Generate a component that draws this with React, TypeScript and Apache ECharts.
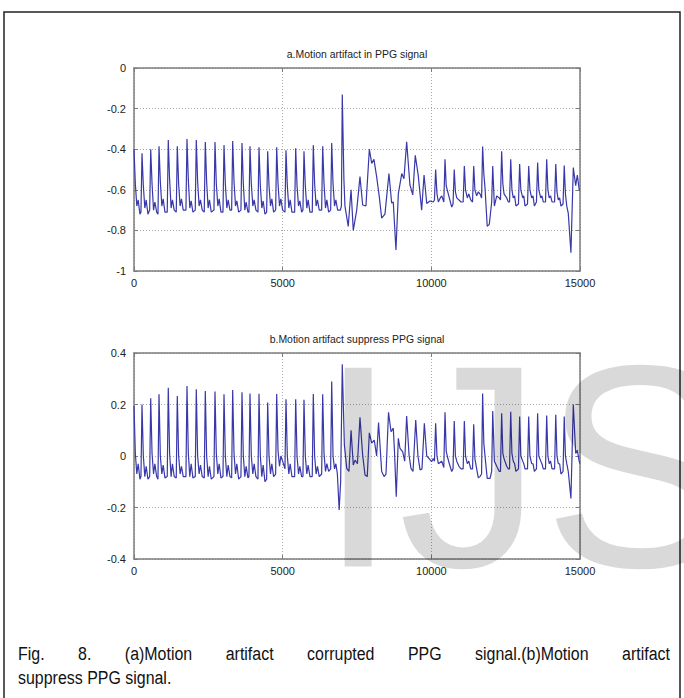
import React, { useEffect, useRef } from "react";
import * as echarts from "echarts";

const FONT = '"Liberation Sans", Arial, sans-serif';

const titleA = "a.Motion artifact in PPG signal";
const titleB = "b.Motion artifact suppress PPG signal";

const xTicks = { min: 0, max: 15000, interval: 5000 };
const yTicksA = { min: -1, max: 0, interval: 0.2 };
const yTicksB = { min: -0.4, max: 0.4, interval: 0.2 };

// (a) raw PPG signal, [sample, amplitude]
const rawBefore: [number, number][] = [
  [0, -0.4], [45, -0.57], [95, -0.68], [140, -0.65], [200, -0.72],
  [234, -0.71], [269, -0.42], [314, -0.58], [364, -0.69], [409, -0.65], [469, -0.72],
  [527, -0.7], [562, -0.4], [607, -0.57], [657, -0.7], [702, -0.66], [762, -0.71],
  [806, -0.72], [841, -0.385], [886, -0.56], [936, -0.68], [981, -0.645], [1041, -0.71],
  [1118, -0.71], [1153, -0.355], [1198, -0.55], [1248, -0.69], [1293, -0.65], [1353, -0.7],
  [1421, -0.71], [1456, -0.385], [1501, -0.57], [1551, -0.68], [1596, -0.645], [1656, -0.7],
  [1747, -0.7], [1782, -0.35], [1827, -0.55], [1877, -0.69], [1922, -0.655], [1982, -0.71],
  [2060, -0.7], [2095, -0.355], [2140, -0.56], [2190, -0.68], [2235, -0.65], [2295, -0.7],
  [2363, -0.71], [2398, -0.365], [2443, -0.56], [2493, -0.69], [2538, -0.65], [2598, -0.71],
  [2689, -0.7], [2724, -0.365], [2769, -0.57], [2819, -0.68], [2864, -0.645], [2924, -0.71],
  [2992, -0.71], [3027, -0.38], [3072, -0.57], [3122, -0.69], [3167, -0.65], [3227, -0.7],
  [3284, -0.7], [3319, -0.36], [3364, -0.56], [3414, -0.68], [3459, -0.655], [3519, -0.71],
  [3597, -0.7], [3632, -0.37], [3677, -0.57], [3727, -0.7], [3772, -0.66], [3832, -0.71],
  [3866, -0.71], [3901, -0.385], [3946, -0.57], [3996, -0.68], [4041, -0.65], [4101, -0.7],
  [4169, -0.71], [4204, -0.39], [4249, -0.58], [4299, -0.69], [4344, -0.655], [4404, -0.72],
  [4461, -0.71], [4496, -0.41], [4541, -0.58], [4591, -0.68], [4636, -0.645], [4696, -0.71],
  [4764, -0.7], [4799, -0.39], [4844, -0.57], [4894, -0.68], [4939, -0.645], [4999, -0.7],
  [5077, -0.71], [5112, -0.405], [5157, -0.58], [5207, -0.69], [5252, -0.65], [5312, -0.71],
  [5403, -0.71], [5438, -0.395], [5483, -0.58], [5533, -0.68], [5578, -0.655], [5638, -0.71],
  [5682, -0.7], [5717, -0.41], [5762, -0.58], [5812, -0.69], [5857, -0.65], [5917, -0.71],
  [5995, -0.71], [6030, -0.38], [6075, -0.57], [6125, -0.68], [6170, -0.65], [6230, -0.7],
  [6311, -0.7], [6346, -0.385], [6391, -0.57], [6441, -0.69], [6486, -0.65], [6546, -0.71],
  [6614, -0.7], [6649, -0.37], [6694, -0.57], [6744, -0.68], [6789, -0.65], [6849, -0.7], [6940, -0.7],
];

const rawArtifact: [number, number][] = [
  [6975, -0.68], [7005, -0.13], [7060, -0.55], [7095, -0.68], [7205, -0.78], [7300, -0.6],
  [7375, -0.8], [7490, -0.7], [7600, -0.535], [7690, -0.675], [7800, -0.68], [7915, -0.4],
  [7995, -0.47], [8070, -0.45], [8160, -0.535], [8250, -0.635], [8330, -0.74], [8440, -0.72],
  [8575, -0.52], [8665, -0.665], [8720, -0.66], [8810, -0.897], [8890, -0.62], [9005, -0.52],
  [9080, -0.545], [9170, -0.363], [9280, -0.575], [9375, -0.625], [9460, -0.43], [9560, -0.53],
  [9675, -0.7], [9755, -0.527], [9845, -0.667], [9955, -0.655],
];

const rawAfter: [number, number][] = [
  [10065, -0.66], [10105, -0.65], [10145, -0.5], [10190, -0.62], [10235, -0.66], [10300, -0.64],
  [10350, -0.63], [10420, -0.66], [10460, -0.45], [10500, -0.58], [10535, -0.6], [10605, -0.64],
  [10685, -0.685], [10730, -0.67], [10770, -0.5], [10810, -0.61], [10855, -0.64], [10930, -0.65],
  [11000, -0.66], [11070, -0.66], [11110, -0.483], [11150, -0.6], [11210, -0.64], [11260, -0.62],
  [11325, -0.65], [11385, -0.66], [11425, -0.483], [11465, -0.6], [11525, -0.63], [11580, -0.61],
  [11635, -0.62], [11690, -0.64], [11725, -0.387], [11765, -0.52], [11805, -0.59], [11880, -0.78],
  [11950, -0.77], [12030, -0.66], [12065, -0.483], [12120, -0.68], [12200, -0.63], [12285, -0.64],
  [12325, -0.65], [12365, -0.41], [12405, -0.57], [12445, -0.62], [12535, -0.64], [12590, -0.66],
  [12630, -0.66], [12670, -0.45], [12710, -0.6], [12755, -0.64], [12800, -0.63], [12845, -0.68],
  [12930, -0.67], [12970, -0.473], [13010, -0.6], [13075, -0.64], [13110, -0.63], [13150, -0.68],
  [13235, -0.67], [13275, -0.483], [13315, -0.6], [13375, -0.64], [13420, -0.63], [13465, -0.68],
  [13535, -0.66], [13575, -0.466], [13615, -0.6], [13680, -0.64], [13720, -0.63], [13765, -0.66],
  [13840, -0.66], [13880, -0.45], [13920, -0.6], [13965, -0.64], [14010, -0.63], [14060, -0.66],
  [14145, -0.66], [14185, -0.473], [14225, -0.61], [14270, -0.65], [14315, -0.64], [14360, -0.68],
  [14430, -0.67], [14470, -0.48], [14510, -0.62], [14555, -0.68], [14605, -0.715], [14695, -0.91],
  [14775, -0.49], [14855, -0.58], [14910, -0.527], [14975, -0.6], [15000, -0.6],
];

// (b) artifact-suppressed PPG signal, [sample, amplitude]
const cleanBefore: [number, number][] = [
  [0, 0.195], [45, 0.01], [95, -0.07], [140, -0.03], [200, -0.09],
  [234, -0.08], [269, 0.2], [314, 0.0], [364, -0.08], [409, -0.04], [469, -0.09],
  [527, -0.08], [562, 0.224], [607, 0.01], [657, -0.07], [702, -0.03], [762, -0.08],
  [806, -0.09], [841, 0.24], [886, 0.0], [936, -0.07], [981, -0.035], [1041, -0.085],
  [1118, -0.08], [1153, 0.265], [1198, 0.01], [1248, -0.08], [1293, -0.03], [1353, -0.08],
  [1421, -0.085], [1456, 0.233], [1501, 0.0], [1551, -0.07], [1596, -0.04], [1656, -0.08],
  [1747, -0.08], [1782, 0.272], [1827, 0.01], [1877, -0.08], [1922, -0.03], [1982, -0.085],
  [2060, -0.08], [2095, 0.259], [2140, 0.0], [2190, -0.07], [2235, -0.035], [2295, -0.08],
  [2363, -0.085], [2398, 0.252], [2443, 0.0], [2493, -0.08], [2538, -0.04], [2598, -0.09],
  [2689, -0.08], [2724, 0.25], [2769, 0.01], [2819, -0.07], [2864, -0.03], [2924, -0.085],
  [2992, -0.08], [3027, 0.24], [3072, 0.0], [3122, -0.08], [3167, -0.035], [3227, -0.08],
  [3284, -0.085], [3319, 0.256], [3364, 0.01], [3414, -0.07], [3459, -0.03], [3519, -0.09],
  [3597, -0.08], [3632, 0.248], [3677, 0.0], [3727, -0.08], [3772, -0.04], [3832, -0.085],
  [3866, -0.08], [3901, 0.243], [3946, 0.0], [3996, -0.07], [4041, -0.03], [4101, -0.08],
  [4169, -0.09], [4204, 0.242], [4249, 0.0], [4299, -0.08], [4344, -0.035], [4404, -0.1],
  [4461, -0.09], [4496, 0.208], [4541, 0.0], [4591, -0.07], [4636, -0.03], [4696, -0.08],
  [4764, -0.07], [4799, 0.241], [4844, 0.02], [4894, -0.04], [4939, 0.0], [4999, -0.02],
  [5077, -0.05], [5112, 0.22], [5157, 0.0], [5207, -0.07], [5252, -0.03], [5312, -0.08],
  [5403, -0.08], [5438, 0.22], [5483, 0.0], [5533, -0.07], [5578, -0.04], [5638, -0.08],
  [5682, -0.08], [5717, 0.218], [5762, 0.0], [5812, -0.07], [5857, -0.035], [5917, -0.08],
  [5995, -0.08], [6030, 0.241], [6075, 0.0], [6125, -0.07], [6170, -0.04], [6230, -0.08],
  [6311, -0.07], [6346, 0.24], [6391, 0.01], [6441, -0.06], [6486, -0.03], [6546, -0.06],
  [6614, -0.05], [6649, 0.289], [6694, 0.0], [6744, -0.05], [6790, -0.03], [6840, -0.07],
  [6900, -0.21], [6950, -0.1],
];

const cleanAfter: [number, number][] = [
  [7005, 0.356], [7075, 0.043], [7155, -0.048], [7230, -0.06], [7300, 0.1], [7375, -0.035],
  [7435, -0.016], [7515, -0.03], [7600, 0.15], [7690, 0.004], [7770, -0.074], [7845, -0.08],
  [7915, 0.09], [7995, 0.05], [8080, 0.062], [8160, 0.0], [8225, 0.13], [8330, -0.06],
  [8410, -0.08], [8475, -0.07], [8560, 0.17], [8645, 0.094], [8720, 0.108], [8760, 0.02],
  [8820, -0.158], [8890, 0.069], [8945, 0.03], [9035, 0.017], [9105, -0.02], [9170, 0.155],
  [9250, 0.004], [9315, -0.048], [9385, -0.06], [9475, 0.14], [9550, 0.0], [9620, -0.054],
  [9685, -0.05], [9765, 0.127], [9845, 0.0], [9920, -0.009], [10010, -0.022], [10065, -0.01],
  [10105, -0.02], [10145, 0.127], [10190, 0.0], [10235, -0.03], [10350, -0.02], [10420, -0.045],
  [10460, 0.17], [10500, 0.02], [10535, 0.0], [10605, -0.03], [10685, -0.06], [10730, -0.05],
  [10770, 0.136], [10810, 0.0], [10855, -0.02], [10930, -0.04], [11000, -0.05], [11070, -0.05],
  [11110, 0.136], [11150, 0.0], [11210, -0.03], [11260, -0.02], [11325, -0.05], [11385, -0.05],
  [11425, 0.123], [11465, -0.01], [11525, -0.05], [11580, -0.085], [11635, -0.08], [11690, -0.07],
  [11725, 0.243], [11765, 0.05], [11805, 0.0], [11880, -0.087], [11975, -0.087], [12030, -0.06],
  [12065, 0.175], [12120, -0.02], [12200, -0.04], [12285, -0.06], [12325, -0.06], [12365, 0.166],
  [12405, 0.01], [12445, -0.01], [12535, -0.04], [12590, -0.05], [12630, -0.05], [12670, 0.172],
  [12710, 0.01], [12755, -0.02], [12800, -0.03], [12845, -0.06], [12930, -0.05], [12970, 0.153],
  [13010, 0.0], [13075, -0.02], [13110, -0.03], [13150, -0.05], [13235, -0.05], [13275, 0.153],
  [13315, 0.0], [13375, -0.03], [13420, -0.03], [13465, -0.06], [13535, -0.05], [13575, 0.166],
  [13615, 0.0], [13680, -0.02], [13720, -0.03], [13765, -0.05], [13840, -0.05], [13880, 0.157],
  [13920, 0.0], [13965, -0.03], [14010, -0.02], [14060, -0.05], [14145, -0.05], [14185, 0.16],
  [14225, 0.0], [14270, -0.03], [14315, -0.03], [14360, -0.07], [14430, -0.06], [14470, 0.153],
  [14510, 0.0], [14555, -0.03], [14605, -0.06], [14695, -0.165], [14775, 0.2], [14855, 0.01],
  [14910, 0.023], [14975, -0.022], [15000, -0.03],
];

const captionLine1 = ["Fig.", "8.", "(a)Motion", "artifact", "corrupted", "PPG", "signal.(b)Motion", "artifact"];
const captionLine2 = "suppress PPG signal.";
const watermark = "IJS";

const FRAME = "#7c7c7c";
const LINE = "#3838aa";
const CAP_SIZE = 19;
const CAP_SX = 0.84;

function fmtY(v: number) {
  return String(parseFloat(v.toFixed(1)));
}

function xAxes(grid: number) {
  const common = {
    gridIndex: grid,
    type: "value" as const,
    ...xTicks,
    axisLine: { show: true, onZero: false, lineStyle: { color: FRAME, width: 1.5 } },
    axisTick: { show: true, inside: true, length: 4, lineStyle: { color: FRAME } },
  };
  return [
    {
      ...common,
      position: "bottom",
      axisLabel: { color: "#222", fontSize: 11, fontFamily: FONT, margin: 6, formatter: (v: number) => String(v) },
      splitLine: { show: true, lineStyle: { color: "#aaaaaa", type: [1, 2], width: 1 } },
    },
    {
      ...common,
      position: "top",
      axisLabel: { show: false },
      splitLine: { show: false },
    },
  ];
}

function yAxes(grid: number, ticks: { min: number; max: number; interval: number }) {
  const common = {
    gridIndex: grid,
    type: "value" as const,
    ...ticks,
    axisLine: { show: true, onZero: false, lineStyle: { color: FRAME, width: 1.5 } },
    axisTick: { show: true, inside: true, length: 4, lineStyle: { color: FRAME } },
  };
  return [
    {
      ...common,
      position: "left",
      axisLabel: { color: "#222", fontSize: 11, fontFamily: FONT, margin: 8, formatter: fmtY },
      splitLine: { show: true, lineStyle: { color: "#aaaaaa", type: [1, 2], width: 1 } },
    },
    {
      ...common,
      position: "right",
      axisLabel: { show: false },
      splitLine: { show: false },
    },
  ];
}

// justify the first caption line between the left and right margins
function justify(words: string[], left: number, right: number) {
  const canvas = document.createElement("canvas");
  const ctx = canvas.getContext("2d")!;
  ctx.font = `${CAP_SIZE}px ${FONT}`;
  const widths = words.map((w) => ctx.measureText(w).width * CAP_SX);
  const total = widths.reduce((a, b) => a + b, 0);
  const gap = (right - left - total) / (words.length - 1);
  const xs: number[] = [];
  let x = left;
  widths.forEach((w) => {
    xs.push(x);
    x += w + gap;
  });
  return xs;
}

export default function App() {
  const ref = useRef<HTMLDivElement>(null);
  useEffect(() => {
    if (!ref.current) return;
    const chart = echarts.init(ref.current, null, { renderer: "svg" });
    const rawData = [...rawBefore, ...rawArtifact, ...rawAfter];
    const cleanData = [...cleanBefore, ...cleanAfter];
    const capX = justify(captionLine1, 18, 670);
    const capStyle = { font: `${CAP_SIZE}px ${FONT}`, fill: "#111", align: "left", verticalAlign: "middle" };
    const option: any = {
      animation: false,
      backgroundColor: "#ffffff",
      grid: [
        { left: 134, top: 68, width: 446, height: 203 },
        { left: 134, top: 353, width: 446, height: 206 },
      ],
      xAxis: [...xAxes(0), ...xAxes(1)],
      yAxis: [...yAxes(0, yTicksA), ...yAxes(1, yTicksB)],
      series: [
        {
          type: "line",
          xAxisIndex: 0,
          yAxisIndex: 0,
          data: rawData,
          showSymbol: false,
          lineStyle: { color: LINE, width: 1.2 },
        },
        {
          type: "line",
          xAxisIndex: 2,
          yAxisIndex: 2,
          data: cleanData,
          showSymbol: false,
          lineStyle: { color: LINE, width: 1.2 },
        },
      ],
      graphic: {
        elements: [
          {
            type: "rect",
            shape: { x: 4, y: 12, width: 676, height: 720 },
            style: { fill: "none", stroke: "#222", lineWidth: 1.5 },
          },
          {
            type: "text",
            x: 357,
            y: 54,
            scaleX: 0.95,
            style: { text: titleA, font: `11px ${FONT}`, fill: "#222", align: "center", verticalAlign: "middle" },
          },
          {
            type: "text",
            x: 357,
            y: 339,
            scaleX: 0.95,
            style: { text: titleB, font: `11px ${FONT}`, fill: "#222", align: "center", verticalAlign: "middle" },
          },
          ...captionLine1.map((w, i) => ({
            type: "text",
            x: capX[i],
            y: 654,
            scaleX: CAP_SX,
            style: { text: w, ...capStyle },
          })),
          {
            type: "text",
            x: 18,
            y: 678,
            scaleX: CAP_SX,
            style: { text: captionLine2, ...capStyle },
          },
          {
            type: "text",
            z: 200,
            x: 318,
            y: 466,
            silent: true,
            style: {
              text: watermark,
              font: `289px ${FONT}`,
              fill: "rgba(0,0,0,0.15)",
              align: "left",
              verticalAlign: "middle",
            },
          },
        ],
      },
    };
    chart.setOption(option);
    return () => chart.dispose();
  }, []);
  return (
    <div
      style={{ position: "fixed", left: 0, top: 0, width: 684, height: 698, background: "#fff", overflow: "hidden" }}
    >
      <div ref={ref} style={{ position: "absolute", left: 0, top: 0, width: 684, height: 698 }} />
    </div>
  );
}
